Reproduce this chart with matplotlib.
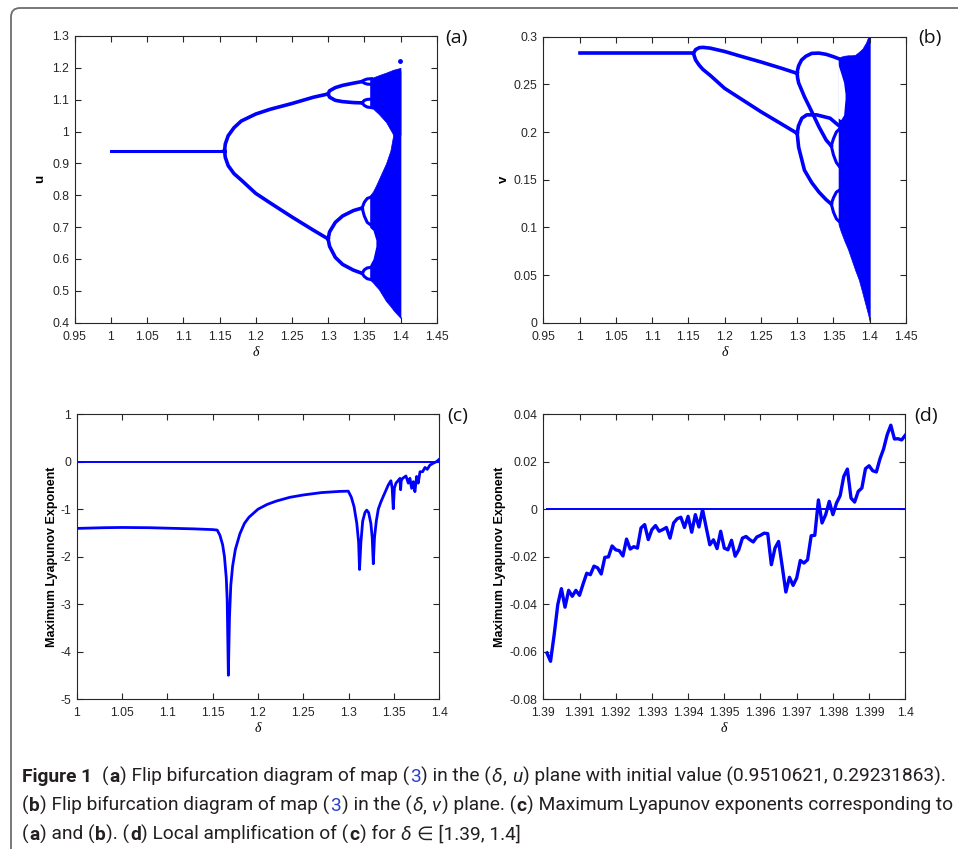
import numpy as np
import matplotlib
matplotlib.use("Agg")
import matplotlib.pyplot as plt
from matplotlib.ticker import FuncFormatter
from matplotlib.patches import FancyBboxPatch
from matplotlib.transforms import IdentityTransform

BLUE = "#0000ff"
W, H = 958, 849

# ---- (a) bifurcation diagram, delta vs u ----
a_fix_d = [1.0, 1.157]
a_fix_u = [0.94, 0.94]
a_p2_d = [1.157, 1.158, 1.162, 1.17, 1.18, 1.2, 1.22, 1.25, 1.28, 1.3]
a_p2_hi = [0.94, 0.961, 0.987, 1.012, 1.033, 1.055, 1.07, 1.088, 1.108, 1.118]
a_p2_lo = [0.94, 0.919, 0.893, 0.868, 0.848, 0.806, 0.776, 0.732, 0.69, 0.663]
a_p4_d = [1.3, 1.302, 1.31, 1.32, 1.335, 1.347]
a_p4_top_hi = [1.118, 1.128, 1.138, 1.145, 1.152, 1.157]
a_p4_top_lo = [1.118, 1.108, 1.098, 1.094, 1.091, 1.09]
a_p4_bot_hi = [0.663, 0.685, 0.715, 0.735, 0.752, 0.76]
a_p4_bot_lo = [0.663, 0.64, 0.605, 0.583, 0.565, 0.555]
a_p8_d = [1.347, 1.35, 1.354, 1.36]
a_p8_loops = [
    ([1.157, 1.162, 1.165, 1.166], [1.157, 1.152, 1.149, 1.148]),
    ([1.09, 1.098, 1.101, 1.102], [1.09, 1.082, 1.077, 1.075]),
    ([0.76, 0.778, 0.79, 0.795], [0.76, 0.735, 0.715, 0.705]),
    ([0.555, 0.566, 0.572, 0.574], [0.555, 0.545, 0.538, 0.535]),
]
# chaotic bands: (delta, lower edge, upper edge)
a_chaos_up_d = [1.358, 1.362, 1.37, 1.38, 1.39, 1.4]
a_chaos_up_lo = [1.075, 1.072, 1.055, 1.03, 0.99, 0.99]
a_chaos_up_hi = [1.166, 1.17, 1.177, 1.185, 1.194, 1.2]
a_chaos_low_d = [1.358, 1.362, 1.366, 1.37, 1.38, 1.386, 1.39, 1.393, 1.4]
a_chaos_low_lo = [0.535, 0.526, 0.515, 0.505, 0.468, 0.452, 0.44, 0.432, 0.415]
a_chaos_low_hi = [0.80, 0.812, 0.83, 0.85, 0.9, 0.94, 0.99, 1.08, 1.19]
a_gap_d = [1.3572, 1.362, 1.366]
a_gap_lo = [0.58, 0.6, 0.64]
a_gap_hi = [0.70, 0.69, 0.66]
a_dot = (1.4, 1.22)

# ---- (b) bifurcation diagram, delta vs v ----
b_fix_d = [1.0, 1.157]
b_fix_v = [0.2825, 0.2825]
b_p2_d = [1.157, 1.16, 1.165, 1.17, 1.18, 1.2, 1.22, 1.25, 1.28, 1.3]
b_p2_hi = [0.2825, 0.2865, 0.2885, 0.2888, 0.288, 0.2845, 0.28, 0.2735, 0.2665, 0.2615]
b_p2_lo = [0.2825, 0.2755, 0.27, 0.2657, 0.2595, 0.2458, 0.236, 0.2213, 0.2077, 0.1986]
b_p4a_up_d = [1.3, 1.3005, 1.302, 1.306, 1.312, 1.32, 1.33, 1.34, 1.35, 1.357]
b_p4a_up_v = [0.2615, 0.265, 0.2695, 0.2755, 0.2795, 0.2825, 0.2828, 0.2815, 0.279, 0.277]
b_p4a_dn_d = [1.3, 1.3005, 1.302, 1.31, 1.32, 1.33, 1.34, 1.347]
b_p4a_dn_v = [0.2615, 0.257, 0.2515, 0.237, 0.2215, 0.2055, 0.1915, 0.1855]
b_p4b_up_d = [1.3, 1.3018, 1.3064, 1.3132, 1.3269, 1.3453, 1.357]
b_p4b_up_v = [0.1986, 0.2065, 0.2145, 0.218, 0.218, 0.2145, 0.207]
b_p4b_dn_d = [1.3, 1.302, 1.31, 1.32, 1.33, 1.34, 1.347]
b_p4b_dn_v = [0.1986, 0.184, 0.16, 0.147, 0.137, 0.129, 0.1245]
b_p8_d = [1.347, 1.35, 1.354, 1.358]
b_p8_loops = [
    ([0.1855, 0.193, 0.2, 0.203], [0.1855, 0.176, 0.168, 0.164]),
    ([0.1245, 0.131, 0.137, 0.139], [0.1245, 0.116, 0.109, 0.106]),
]
b_chaos_d = [1.357, 1.36, 1.365, 1.37, 1.375, 1.38, 1.385, 1.39, 1.395, 1.398, 1.4]
b_chaos_lo = [0.103, 0.096, 0.086, 0.077, 0.066, 0.055, 0.045, 0.031, 0.0165, 0.008, 0.001]
b_chaos_hi = [0.277, 0.279, 0.28, 0.2805, 0.2805, 0.281, 0.284, 0.2875, 0.294, 0.3, 0.3]
b_gap_d = [1.3558, 1.36, 1.364, 1.366]
b_gap_lo = [0.215, 0.213, 0.218, 0.235]
b_gap_hi = [0.272, 0.262, 0.252, 0.24]

# ---- (c) maximum Lyapunov exponent ----
c_delta = [1.0, 1.03, 1.05, 1.08, 1.1, 1.13, 1.15, 1.155, 1.158, 1.161, 1.163, 1.165,
           1.166, 1.1673, 1.1685, 1.170, 1.172, 1.175, 1.18, 1.185, 1.19, 1.2, 1.21,
           1.22, 1.235, 1.25, 1.27, 1.29, 1.2996, 1.303, 1.306, 1.309, 1.311, 1.312,
           1.3135, 1.3155, 1.318, 1.3199, 1.322, 1.3245, 1.326, 1.3272, 1.3285, 1.3305,
           1.3327, 1.3355, 1.3382, 1.3437, 1.3466, 1.348, 1.3492, 1.3505, 1.3522,
           1.3566, 1.3573, 1.358, 1.3595, 1.3632, 1.3658, 1.3676, 1.3695, 1.3713,
           1.3731, 1.375, 1.3768, 1.3787, 1.3816, 1.3842, 1.3867, 1.3897, 1.3934,
           1.397, 1.4]
c_lyap = [-1.405, -1.39, -1.385, -1.39, -1.40, -1.415, -1.43, -1.44, -1.55, -1.75, -2.0,
          -2.45, -2.9, -4.5, -3.3, -2.6, -2.2, -1.85, -1.52, -1.3, -1.17, -1.0, -0.9,
          -0.83, -0.75, -0.7, -0.65, -0.625, -0.62, -0.75, -0.95, -1.3, -1.7, -2.27,
          -1.7, -1.25, -1.07, -1.02, -1.07, -1.3, -1.6, -2.15, -1.6, -1.25, -1.0,
          -0.85, -0.73, -0.49, -0.40, -0.55, -0.99, -0.55, -0.45, -0.35, -0.59, -0.40,
          -0.35, -0.30, -0.45, -0.35, -0.56, -0.42, -0.63, -0.31, -0.45, -0.21, -0.21,
          -0.12, -0.16, -0.07, -0.03, 0.003, 0.052]

# ---- (d) zoom of (c) on [1.39, 1.4] ----
d_delta = np.round(np.arange(1.3901, 1.40001, 0.0001), 4)
d_lyap = [-0.0606, -0.0641, -0.0529, -0.0402, -0.0335, -0.0413, -0.0342, -0.0367, -0.0342, -0.0363,
          -0.0315, -0.0270, -0.0276, -0.0240, -0.0247, -0.0273, -0.0203, -0.0201, -0.0155, -0.0171,
          -0.0175, -0.0197, -0.0126, -0.0168, -0.0158, -0.0164, -0.0079, -0.0065, -0.0128, -0.0086,
          -0.0069, -0.0093, -0.0086, -0.0077, -0.0122, -0.0058, -0.0040, -0.0034, -0.0077, -0.0030,
          -0.0097, -0.0023, -0.0075, -0.0002, -0.0077, -0.0150, -0.0129, -0.0166, -0.0093, -0.0164,
          -0.0171, -0.0131, -0.0198, -0.0171, -0.0122, -0.0115, -0.0128, -0.0138, -0.0117, -0.0110,
          -0.0101, -0.0103, -0.0234, -0.0164, -0.0136, -0.0241, -0.0349, -0.0287, -0.0321, -0.0290,
          -0.0216, -0.0227, -0.0213, -0.0112, -0.0110, 0.0039, -0.0058, -0.0023, 0.0033, -0.0023,
          0.0026, 0.0057, 0.0138, 0.0169, 0.0047, 0.0030, 0.0075, 0.0089, 0.0171, 0.0183,
          0.0162, 0.0157, 0.0212, 0.0254, 0.0314, 0.0354, 0.0296, 0.0297, 0.0292, 0.0312]

plt.rcParams["font.family"] = ["Liberation Sans", "DejaVu Sans"]

fig = plt.figure(figsize=(W / 100, H / 100), dpi=100)


def px_axes(left, top, right, bottom):
    return fig.add_axes([left / W, 1 - bottom / H, (right - left) / W, (bottom - top) / H])


def matlab_style(ax, xlim, ylim, xticks, yticks):
    ax.set_xlim(xlim)
    ax.set_ylim(ylim)
    ax.set_xticks(xticks)
    ax.set_yticks(yticks)
    fmt = FuncFormatter(lambda v, p: f"{round(v, 4):g}")
    ax.xaxis.set_major_formatter(fmt)
    ax.yaxis.set_major_formatter(fmt)
    ax.tick_params(direction="in", top=True, right=True, length=4, width=0.8,
                   labelsize=8.8, colors="#262626")
    ax.tick_params(axis="x", pad=6)
    ax.tick_params(axis="y", pad=4)
    for s in ax.spines.values():
        s.set_linewidth(0.8)
        s.set_color("#262626")


def delta_label(ax):
    ax.set_xlabel("δ", family=["Liberation Serif", "DejaVu Serif"], style="italic",
                  fontsize=10, labelpad=2)


# (a)
ax = px_axes(74.7, 36, 436.7, 322.7)
matlab_style(ax, (0.95, 1.45), (0.4, 1.3), np.arange(0.95, 1.451, 0.05), np.arange(0.4, 1.301, 0.1))
ax.fill_between(a_chaos_up_d, a_chaos_up_lo, a_chaos_up_hi, color=BLUE, lw=0.5)
ax.fill_between(a_chaos_low_d, a_chaos_low_lo, a_chaos_low_hi, color=BLUE, lw=0.5)
ax.fill_between(a_gap_d, a_gap_lo, a_gap_hi, color="white", lw=0)
ax.plot(a_fix_d, a_fix_u, color=BLUE, lw=2.2)
for branch in (a_p2_hi, a_p2_lo):
    ax.plot(a_p2_d, branch, color=BLUE, lw=2.6)
for branch in (a_p4_top_hi, a_p4_top_lo, a_p4_bot_hi, a_p4_bot_lo):
    ax.plot(a_p4_d, branch, color=BLUE, lw=2.6)
for hi, lo in a_p8_loops:
    ax.plot(a_p8_d, hi, color=BLUE, lw=2.2)
    ax.plot(a_p8_d, lo, color=BLUE, lw=2.2)
ax.plot(*a_dot, "o", color=BLUE, ms=2.5)
ax.set_ylabel("u", fontweight="bold", fontsize=9.5, labelpad=4)
delta_label(ax)

# (b)
ax = px_axes(543.3, 36.7, 906, 322.7)
matlab_style(ax, (0.95, 1.45), (0, 0.3), np.arange(0.95, 1.451, 0.05), np.arange(0, 0.301, 0.05))
ax.fill_between(b_chaos_d, b_chaos_lo, b_chaos_hi, color=BLUE, lw=0.5)
ax.fill_between(b_gap_d, b_gap_lo, b_gap_hi, color="white", lw=0)
ax.plot(b_fix_d, b_fix_v, color=BLUE, lw=2.6)
for branch in (b_p2_hi, b_p2_lo):
    ax.plot(b_p2_d, branch, color=BLUE, lw=2.6)
ax.plot(b_p4a_up_d, b_p4a_up_v, color=BLUE, lw=2.6)
ax.plot(b_p4a_dn_d, b_p4a_dn_v, color=BLUE, lw=2.6)
ax.plot(b_p4b_up_d, b_p4b_up_v, color=BLUE, lw=2.6)
ax.plot(b_p4b_dn_d, b_p4b_dn_v, color=BLUE, lw=2.6)
for hi, lo in b_p8_loops:
    ax.plot(b_p8_d, hi, color=BLUE, lw=2.2)
    ax.plot(b_p8_d, lo, color=BLUE, lw=2.2)
ax.set_ylabel("v", fontweight="bold", fontsize=9.5, labelpad=3)
delta_label(ax)

# (c)
ax = px_axes(76.7, 414.3, 439.3, 699)
matlab_style(ax, (1, 1.4), (-5, 1), np.arange(1, 1.401, 0.05), np.arange(-5, 1.01, 1))
ax.plot([1.0, 1.4], [0, 0], color=BLUE, lw=1.4)
ax.plot(c_delta, c_lyap, color=BLUE, lw=2.0)
ax.set_ylabel("Maximum Lyapunov Exponent", fontweight="bold", fontsize=9, labelpad=2)
delta_label(ax)

# (d)
ax = px_axes(543.3, 414.3, 905.3, 699)
matlab_style(ax, (1.39, 1.4), (-0.08, 0.04), np.arange(1.39, 1.40001, 0.001), np.arange(-0.08, 0.0401, 0.02))
ax.plot([d_delta[0], d_delta[-1]], [0, 0], color=BLUE, lw=1.4)
ax.plot(d_delta, d_lyap, color=BLUE, lw=2.4)
ax.set_ylabel("Maximum Lyapunov Exponent", fontweight="bold", fontsize=9, labelpad=3)
delta_label(ax)

# panel letters
for lab, x, y in [("(a)", 456, 38), ("(b)", 930, 38), ("(c)", 458, 416), ("(d)", 926, 416)]:
    fig.text(x / W, 1 - y / H, lab, fontsize=14, ha="center", va="center",
             family=["Open Sans", "DejaVu Sans"], color="#111111")

# frame around the figure
frame = FancyBboxPatch((11, -30), 990, 30 + H - 8, boxstyle="round,pad=0,rounding_size=9",
                       transform=IdentityTransform(), fill=False, ec="#6d6d6d", lw=1.3)
fig.add_artist(frame)

# caption, drawn run by run
cap_family = ["Roboto", "DejaVu Sans"]
line1 = [("Figure 1", {"weight": "bold"}), ("  (", {}), ("a", {"weight": "bold"}),
         (") Flip bifurcation diagram of map (", {}), ("3", {"color": "#2a3fc7"}),
         (") in the (", {}), ("δ", {"style": "italic"}), (", ", {}), ("u", {"style": "italic"}),
         (") plane with initial value (0.9510621, 0.29231863).", {})]
line2 = [("(", {}), ("b", {"weight": "bold"}), (") Flip bifurcation diagram of map (", {}),
         ("3", {"color": "#2a3fc7"}), (") in the (", {}), ("δ", {"style": "italic"}), (", ", {}),
         ("v", {"style": "italic"}), (") plane. (", {}), ("c", {"weight": "bold"}),
         (") Maximum Lyapunov exponents corresponding to", {})]
line3 = [("(", {}), ("a", {"weight": "bold"}), (") and (", {}), ("b", {"weight": "bold"}),
         ("). (", {}), ("d", {"weight": "bold"}), (") Local amplification of (", {}),
         ("c", {"weight": "bold"}), (") for ", {}), ("δ", {"style": "italic"}),
         (" ∈ [1.39, 1.4]", {})]

renderer = fig.canvas.get_renderer()


def text_width(s, size, kw):
    t = fig.text(0, 0, s, fontsize=size, family=cap_family, **kw)
    w = t.get_window_extent(renderer).width
    t.remove()
    return w


def draw_runs(runs, x, y, size, draw=True):
    sp = text_width("x x", size, {}) - text_width("xx", size, {})
    for s, kw in runs:
        lead = len(s) - len(s.lstrip(" "))
        trail = len(s) - len(s.rstrip(" "))
        core = s.strip(" ")
        x += lead * sp
        if core:
            kw2 = dict(kw)
            kw2.setdefault("color", "#231f20")
            if draw:
                fig.text(x / W, 1 - y / H, core, fontsize=size, family=cap_family,
                         va="baseline", ha="left", **kw2)
            x += text_width(core, size, kw) + 0.6
        x += trail * sp
    return x


probe = max(draw_runs(line1, 0, 0, 12, draw=False), draw_runs(line2, 0, 0, 12, draw=False))
cap_size = 12 * 928 / probe
draw_runs(line1, 22, 782, cap_size)
draw_runs(line2, 22, 811, cap_size)
draw_runs(line3, 22, 840, cap_size)

fig.savefig("out.png", dpi=100)
